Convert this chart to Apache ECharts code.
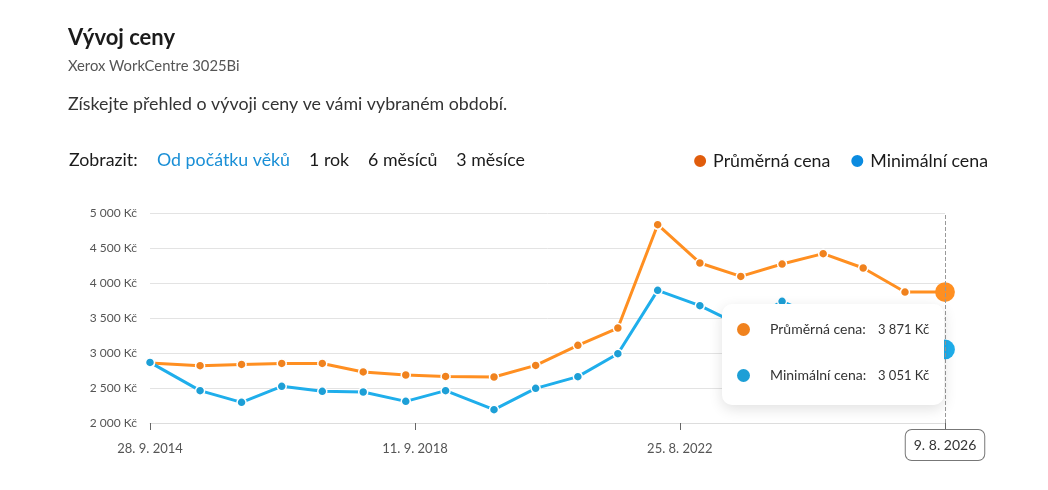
<!DOCTYPE html>
<html lang="cs">
<head>
<meta charset="utf-8">
<title>Vývoj ceny</title>
<script src="https://cdn.jsdelivr.net/npm/echarts@6/dist/echarts.min.js"></script>
<style>
  html, body { margin: 0; padding: 0; background: #fff; }
  #chart { width: 1048px; height: 490px; }
</style>
</head>
<body>
<div id="chart"></div>
<script>
const FONT = 'Lato, "Noto Sans", sans-serif'

// values
const dates = [
  '2014-09-28', '2015-06-28', '2016-02-09', '2016-09-15', '2017-04-24',
  '2017-12-03', '2018-07-23', '2019-02-25', '2019-11-16', '2020-06-30',
  '2021-02-15', '2021-09-21', '2022-04-26', '2022-12-12', '2023-07-23',
  '2024-03-04', '2024-10-14', '2025-05-20', '2026-01-03', '2026-08-09'
]
const avgPrice = [
  2857, 2819, 2837, 2851, 2851, 2729, 2686, 2666, 2657, 2823,
  3109, 3357, 4833, 4286, 4094, 4271, 4419, 4214, 3871, 3871
]
const minPrice = [
  2866, 2462, 2295, 2524, 2452, 2443, 2309, 2462, 2190, 2495,
  2662, 2990, 3895, 3676, 3390, 3738, 3480, 3300, 3051, 3051
]
const tickDates = ['2014-09-28', '2018-09-11', '2022-08-25', '2026-08-09']
const yTicks = [2000, 2500, 3000, 3500, 4000, 4500, 5000]
const seriesNames = ['Průměrná cena', 'Minimální cena']
const periods = ['Od počátku věků', '1 rok', '6 měsíců', '3 měsíce']

const lineColors = ['#f0821e', '#1d9fd6']
const legendColors = ['#e05c0c', '#0b8be0']

const toTime = (s) => {
  const [y, m, d] = s.split('-').map(Number)
  return Date.UTC(y, m - 1, d)
}

const fmtDate = (t) => {
  const d = new Date(t)
  return d.getUTCDate() + '. ' + (d.getUTCMonth() + 1) + '. ' + d.getUTCFullYear()
}

const fmtPrice = (v) => {
  v = Math.round(v)
  const th = Math.floor(v / 1000)
  const rest = String(v % 1000).padStart(3, '0')
  return (th > 0 ? th + ' ' + rest : String(v % 1000)) + ' Kč'
}

const times = dates.map(toTime)
const tickTimes = tickDates.map(toTime)

const chart = echarts.init(document.getElementById('chart'))

// period switch row, items laid out by measured text width
const rowFont = '17.8px ' + FONT
const measure = document.createElement('canvas').getContext('2d')
measure.font = rowFont
const periodGraphics = []
let px = 157
periods.forEach((p, i) => {
  periodGraphics.push({
    type: 'text',
    x: px,
    y: 160,
    style: {
      text: p,
      font: rowFont,
      fill: i === 0 ? '#1a8fd6' : '#1b1b1b',
      verticalAlign: 'middle'
    }
  })
  px += measure.measureText(p).width + 19
})

const tooltipHtml = (params) => {
  const rows = params.map((p) => {
    return '<div style="height:46px;display:flex;align-items:center;">' +
      '<span style="display:inline-block;width:13px;height:13px;border-radius:50%;background:' + lineColors[p.seriesIndex] + ';"></span>' +
      '<span style="margin-left:20px;width:108px;font-size:14px;">' + p.seriesName + ':</span>' +
      '<span>' + fmtPrice(p.value[1]) + '</span>' +
      '</div>'
  })
  return rows.join('')
}

const option = {
  animation: false,
  textStyle: { fontFamily: FONT },
  title: {
    text: 'Vývoj ceny',
    subtext: 'Xerox WorkCentre 3025Bi',
    left: 68,
    top: 27,
    padding: 0,
    itemGap: 10,
    textStyle: { fontSize: 22, fontWeight: 700, color: '#1b1b1b', fontFamily: FONT },
    subtextStyle: { fontSize: 14.8, color: '#555', fontFamily: FONT }
  },
  graphic: [
    {
      type: 'text',
      x: 68,
      y: 104,
      style: {
        text: 'Získejte přehled o vývoji ceny ve vámi vybraném období.',
        font: '17.8px ' + FONT,
        fill: '#333',
        verticalAlign: 'middle'
      }
    },
    {
      type: 'text',
      x: 69,
      y: 160,
      style: {
        text: 'Zobrazit:',
        font: rowFont,
        fill: '#1b1b1b',
        verticalAlign: 'middle'
      }
    }
  ].concat(periodGraphics),
  legend: {
    right: 55,
    top: 147,
    icon: 'circle',
    itemWidth: 14,
    itemHeight: 14,
    itemGap: 19,
    textStyle: { fontSize: 17.8, color: '#1b1b1b', fontFamily: FONT, padding: [0, 0, 0, 1] },
    data: seriesNames.map((n, i) => ({ name: n, itemStyle: { color: legendColors[i] } }))
  },
  grid: {
    left: 150,
    right: 103,
    top: 213,
    bottom: 67,
    containLabel: false
  },
  tooltip: {
    trigger: 'axis',
    triggerOn: 'none',
    alwaysShowContent: true,
    position: [722, 304],
    backgroundColor: '#fff',
    borderWidth: 0,
    padding: [2, 14, 7, 15],
    textStyle: { fontSize: 13, color: '#333', fontFamily: FONT },
    extraCssText: 'width:193px;border-radius:10px;box-shadow:0 4px 14px rgba(0,0,0,0.12);',
    axisPointer: {
      type: 'line',
      lineStyle: { color: '#999', type: 'dashed', width: 1 }
    },
    formatter: tooltipHtml
  },
  xAxis: {
    type: 'value',
    min: times[0],
    max: times[times.length - 1],
    axisLine: { show: true, lineStyle: { color: '#ddd' } },
    axisTick: { show: true, customValues: tickTimes, length: 7, lineStyle: { color: '#666' } },
    axisLabel: {
      customValues: tickTimes,
      formatter: (v) => fmtDate(v),
      fontSize: 13,
      color: '#555',
      margin: 19
    },
    splitLine: { show: false },
    axisPointer: {
      label: {
        show: true,
        formatter: (p) => fmtDate(p.value),
        backgroundColor: '#fff',
        borderColor: '#777',
        borderWidth: 1,
        borderRadius: 6,
        color: '#333',
        fontSize: 14,
        fontFamily: FONT,
        padding: [8, 8, 8, 8],
        margin: 7,
        shadowBlur: 0
      }
    }
  },
  yAxis: {
    type: 'value',
    min: yTicks[0],
    max: yTicks[yTicks.length - 1],
    interval: 500,
    axisLine: { show: false },
    axisTick: { show: false },
    axisLabel: {
      formatter: (v) => fmtPrice(v),
      fontSize: 12,
      color: '#555',
      margin: 13
    },
    splitLine: { lineStyle: { color: '#e3e3e3' } }
  },
  series: [avgPrice, minPrice].map((vals, i) => ({
    name: seriesNames[i],
    type: 'line',
    data: vals.map((v, j) => [times[j], v]),
    symbol: 'circle',
    symbolSize: 9,
    showAllSymbol: true,
    lineStyle: { color: lineColors[i], width: 3 },
    itemStyle: { color: lineColors[i], borderColor: '#fff', borderWidth: 1.5 },
    emphasis: { scale: 2.2, itemStyle: { borderWidth: 0 } }
  }))
}

chart.setOption(option)
chart.dispatchAction({ type: 'showTip', seriesIndex: 0, dataIndex: dates.length - 1 })
</script>
</body>
</html>
